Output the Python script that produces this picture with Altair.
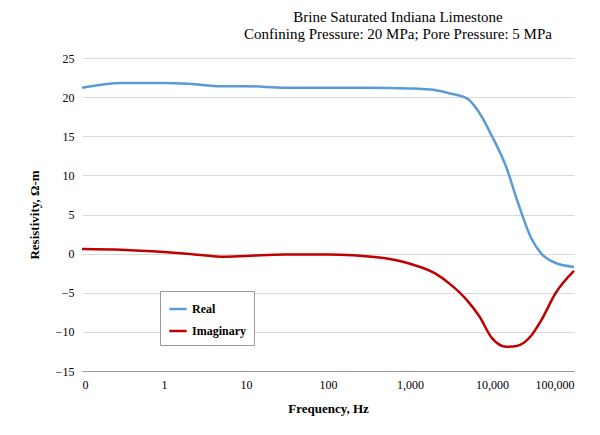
import altair as alt
import pandas as pd

real_f = [0.1, 0.3, 1, 2, 5, 10, 30, 100, 300, 1000, 2000, 3000, 5000, 7000, 10000, 15000, 20000, 30000, 40000, 60000, 100000]
real_v = [21.2, 21.8, 21.8, 21.7, 21.4, 21.4, 21.2, 21.2, 21.2, 21.1, 20.9, 20.5, 19.8, 18.0, 15.0, 11.0, 7.0, 2.0, 0.0, -1.2, -1.7]
imag_f = [0.1, 0.3, 1, 3, 5, 10, 30, 100, 200, 500, 1000, 2000, 3000, 5000, 7000, 10000, 15000, 20000, 30000, 40000, 60000, 100000]
imag_v = [0.6, 0.5, 0.2, -0.2, -0.4, -0.3, -0.1, -0.1, -0.2, -0.6, -1.3, -2.5, -3.8, -6.0, -8.0, -10.8, -11.9, -11.8, -10.5, -8.5, -5.0, -2.2]

df = pd.concat([
    pd.DataFrame({"f": real_f, "v": real_v, "s": "Real"}),
    pd.DataFrame({"f": imag_f, "v": imag_v, "s": "Imaginary"}),
])

font = "Liberation Serif"
chart = alt.Chart(df).mark_line(strokeWidth=2.5, interpolate="monotone").encode(
    x=alt.X("f:Q", scale=alt.Scale(type="log", domain=[0.1, 100000], nice=False),
            axis=alt.Axis(values=[0.1, 1, 10, 100, 1000, 10000, 100000], grid=False,
                          labelExpr="datum.value < 0.5 ? '0' : format(datum.value, ',')",
                          title="Frequency, Hz", titlePadding=12, tickSize=0, labelPadding=8)),
    y=alt.Y("v:Q", scale=alt.Scale(domain=[-15, 25], nice=False),
            axis=alt.Axis(values=list(range(-15, 30, 5)), title="Resistivity, Ω-m",
                          gridColor="#d9d9d9", tickSize=0, domain=False, labelPadding=8, titlePadding=14)),
    color=alt.Color("s:N", scale=alt.Scale(domain=["Real", "Imaginary"], range=["#5B9BD5", "#C00000"]),
                    legend=alt.Legend(title=None, orient="none", legendX=78, legendY=233,
                                      symbolType="stroke", symbolStrokeWidth=2.5, symbolSize=300,
                                      strokeColor="#999", padding=8, fillColor="white",
                                      labelFontWeight="bold", labelFontSize=12, rowPadding=6)),
).properties(
    width=492, height=313,
    title=alt.Title(["Brine Saturated Indiana Limestone", "Confining Pressure: 20 MPa;  Pore Pressure: 5 MPa"],
                    anchor="middle", dx=70, fontSize=15, fontWeight="normal", font=font, offset=10),
    autosize=alt.AutoSizeParams(type="none"),
    padding={"left": 74, "top": 50, "right": 18, "bottom": 56},
).configure(font=font).configure_axis(
    labelFont=font, titleFont=font, labelFontSize=12, titleFontSize=13, titleFontWeight="bold",
    labelColor="black", titleColor="black", domainColor="#999",
).configure_view(stroke=None)

chart.save("out.html", embed_options={"renderer": "svg", "actions": False})
